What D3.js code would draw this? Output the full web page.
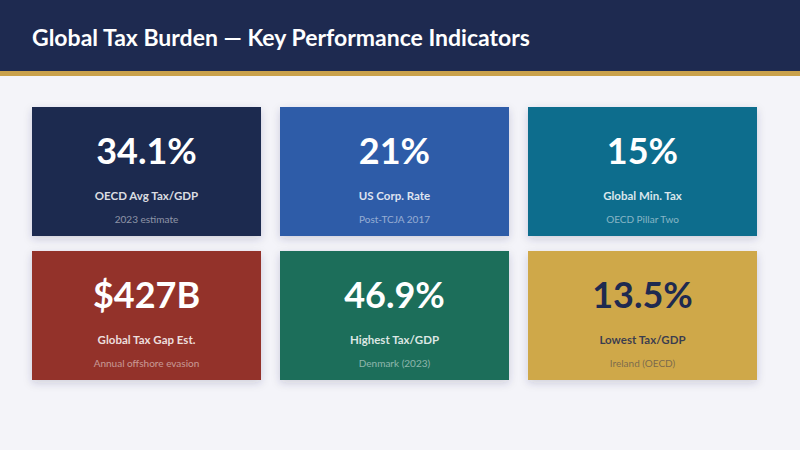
<!DOCTYPE html>
<html>
<head>
<meta charset="utf-8">
<script src="https://cdn.jsdelivr.net/npm/d3@7"></script>
<style>
  body { margin: 0; background: #f4f4f9; }
  svg { display: block; font-family: Lato, "Open Sans", sans-serif; }
</style>
</head>
<body>
<div id="chart"></div>
<script>
const values = ["34.1%", "21%", "15%", "$427B", "46.9%", "13.5%"];
const labels = ["OECD Avg Tax/GDP", "US Corp. Rate", "Global Min. Tax", "Global Tax Gap Est.", "Highest Tax/GDP", "Lowest Tax/GDP"];
const subs = ["2023 estimate", "Post-TCJA 2017", "OECD Pillar Two", "Annual offshore evasion", "Denmark (2023)", "Ireland (OECD)"];
const fills = ["#1e2a50", "#2d5ca8", "#0a6d8d", "#93332c", "#1b6e5a", "#cfa84a"];
const inks = ["#ffffff", "#ffffff", "#ffffff", "#ffffff", "#ffffff", "#1e2a50"];

const width = 800;
const height = 450;

const svg = d3.select("#chart")
  .append("svg")
  .attr("width", width)
  .attr("height", height);

const defs = svg.append("defs");
const shadow = defs.append("filter")
  .attr("id", "shadow")
  .attr("x", "-20%").attr("y", "-20%")
  .attr("width", "140%").attr("height", "150%");
shadow.append("feDropShadow")
  .attr("dx", 0).attr("dy", 3)
  .attr("stdDeviation", 4)
  .attr("flood-color", "#1e2a50")
  .attr("flood-opacity", 0.18);

// background + header
svg.append("rect").attr("width", width).attr("height", height).attr("fill", "#f4f4f9");
svg.append("rect").attr("width", width).attr("height", 71).attr("fill", "#1e2a50");
svg.append("rect").attr("y", 71).attr("width", width).attr("height", 5).attr("fill", "#c9a14b");

svg.append("text")
  .attr("x", 32)
  .attr("y", 46)
  .attr("fill", "#ffffff")
  .attr("font-size", "23px")
  .attr("font-weight", "bold")
  .text("Global Tax Burden \u2014 Key Performance Indicators");

const cards = values.map((v, i) => ({
  value: v, label: labels[i], sub: subs[i], fill: fills[i], ink: inks[i],
  col: i % 3, row: Math.floor(i / 3)
}));

// 3 x 2 grid of cards
const x = d3.scaleBand()
  .domain([0, 1, 2])
  .range([32, 757])
  .paddingInner(0.0766);

const y = d3.scaleBand()
  .domain([0, 1])
  .range([107, 380])
  .paddingInner(0.104);

const g = svg.selectAll(".card")
  .data(cards)
  .enter()
  .append("g")
  .attr("class", "card")
  .attr("transform", d => `translate(${x(d.col)},${y(d.row)})`);

g.append("rect")
  .attr("width", x.bandwidth())
  .attr("height", y.bandwidth())
  .attr("fill", d => d.fill)
  .attr("filter", "url(#shadow)");

g.append("text")
  .attr("x", x.bandwidth() / 2)
  .attr("y", 57)
  .attr("text-anchor", "middle")
  .attr("fill", d => d.ink)
  .attr("font-size", "36px")
  .attr("font-weight", "bold")
  .text(d => d.value);

g.append("text")
  .attr("x", x.bandwidth() / 2)
  .attr("y", 93)
  .attr("text-anchor", "middle")
  .attr("fill", d => d.ink)
  .attr("fill-opacity", 0.85)
  .attr("font-size", "11.5px")
  .attr("font-weight", "bold")
  .text(d => d.label);

g.append("text")
  .attr("x", x.bandwidth() / 2)
  .attr("y", 116)
  .attr("text-anchor", "middle")
  .attr("fill", d => d.ink)
  .attr("fill-opacity", 0.5)
  .attr("font-size", "10px")
  .text(d => d.sub);
</script>
</body>
</html>
